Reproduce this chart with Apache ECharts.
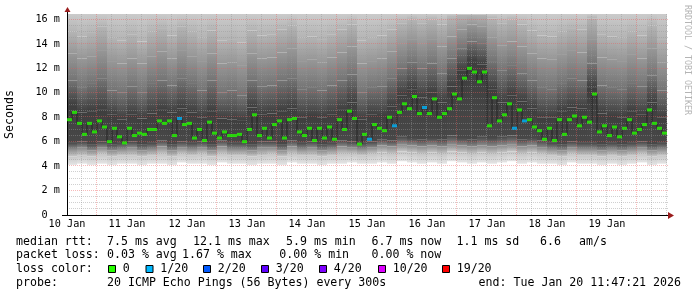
<!DOCTYPE html>
<html><head><meta charset="utf-8">
<script src="https://cdn.jsdelivr.net/npm/echarts@6/dist/echarts.min.js"></script>
<style>html,body{margin:0;padding:0;background:#fff}#c{width:697px;height:297px}</style>
</head><body><div id="c"></div>
<script>
// ---------------- data ----------------
const dayLabels = ['10 Jan','11 Jan','12 Jan','13 Jan','14 Jan','15 Jan','16 Jan','17 Jan','18 Jan','19 Jan'];
const yTickLabels = ['0\u00a0\u00a0','2 m','4 m','6 m','8 m','10 m','12 m','14 m','16 m'];

// median rtt (ms), 120 bins of 2 hours
const medianRtt = [
 7.8, 8.4, 7.5, 6.6, 7.5, 6.8, 7.7, 7.2, 6.0, 7.1, 6.4, 5.9,
 7.1, 6.5, 6.7, 6.6, 7.0, 7.0, 7.7, 7.5,
 7.7, 6.5, 7.9, 7.4, 7.5, 6.3, 7.0, 6.1, 7.6, 6.7, 6.3, 6.8, 6.5, 6.5, 6.6, 6.0, 7.0, 8.2, 6.5, 7.1,
 6.3, 7.4, 7.7, 6.3, 7.8, 7.9, 6.8, 6.5, 7.1, 6.1, 7.1, 6.3, 7.2, 6.2, 7.8, 7.0, 8.5, 7.9, 5.8, 6.6,
 6.2, 7.4, 7.1, 6.9, 8.0, 7.3, 8.4, 9.1, 8.7, 9.7, 8.3, 8.8, 8.3, 9.5, 8.0, 8.3, 8.7, 9.9, 9.5, 11.2,
 12.0, 11.7, 10.9, 11.7, 7.3, 9.6, 7.7, 8.2, 9.1, 7.1, 8.6, 7.7, 7.8, 7.2, 6.9, 6.2, 7.1, 6.1, 7.8, 6.6,
 7.8, 8.1, 7.3, 8.0, 7.6, 9.9, 6.8, 7.3, 6.5, 7.2, 6.4, 7.1, 7.8, 6.7, 7.0, 7.4, 8.6, 7.5, 7.1, 6.7
];
// lost pings (out of 20) per bin
const lossCount = [
 0,0,0,0,0,0,0,0,0,0,0,0, 0,0,0,0,0,0,0,0,
 0,0,1,0,0,0,0,0,0,0,0,0,0,0,0,0,0,0,0,0,
 0,0,0,0,0,0,0,0,0,0,0,0,0,0,0,0,0,0,0,0,
 1,0,0,0,0,1,0,0,0,0,0,1,0,0,0,0,0,0,0,0,
 0,0,0,0,0,0,0,0,0,1,0,1,0,0,0,0,0,0,0,0,
 0,0,0,0,0,0,0,0,0,0,0,0,0,0,0,0,0,0,0,0
];
// smoke boundaries (ms), 60 bins of 4 hours
const smokeMin = [4.1,4.2,4.1,4.2,4.1,4.2, 4.2,4.1,4.2,4.2,4.1,4.3, 4.2,4.2,4.1,4.3,4.2,4.2, 4.1,4.2,4.2,4.1,4.3,4.2, 4.2,4.1,4.2,4.2,4.3,4.2,
 4.2,4.3,4.2,4.4,4.3,4.2, 4.3,4.2,4.4,4.3,4.2,4.3, 4.2,4.3,4.4,4.2,4.3,4.2, 4.2,4.1,4.3,4.2,4.2,4.1, 4.2,4.1,4.2,4.3,4.1,4.2];
const smokeLow1 = [4.8,4.9,4.8,5.0,4.8,4.9, 4.9,4.8,4.9,5.0,4.8,5.0, 4.9,5.0,4.8,5.0,4.9,4.9, 4.8,4.9,5.0,4.8,5.0,4.9, 4.9,4.8,4.9,5.0,5.0,4.9,
 5.0,5.1,5.0,5.2,5.1,5.0, 5.1,5.0,5.2,5.1,5.0,5.1, 5.0,5.1,5.2,5.0,5.1,5.0, 4.9,4.8,5.0,4.9,4.9,4.8, 4.9,4.8,4.9,5.0,4.8,4.9];
const smokeLow2 = [5.4,5.5,5.3,5.5,5.3,5.4, 5.5,5.3,5.4,5.6,5.3,5.5, 5.4,5.5,5.3,5.6,5.4,5.4, 5.3,5.5,5.5,5.3,5.6,5.4, 5.5,5.3,5.4,5.6,5.5,5.4,
 5.5,5.7,5.6,5.8,5.7,5.6, 5.7,5.6,5.8,5.7,5.6,5.7, 5.6,5.7,5.8,5.6,5.7,5.5, 5.4,5.3,5.5,5.4,5.4,5.3, 5.4,5.3,5.4,5.5,5.3,5.4];
const smokeCoreLow = [5.9,6.0,5.8,6.0,5.8,5.9, 6.0,5.8,5.9,6.1,5.8,6.0, 5.9,6.0,5.8,6.1,5.9,5.9, 5.8,6.0,6.0,5.8,6.1,5.9, 6.0,5.8,5.9,6.1,6.0,5.9,
 6.0,6.2,6.1,6.4,6.3,6.2, 6.3,6.2,6.5,6.3,6.2,6.4, 6.3,6.4,6.5,6.2,6.3,6.1, 5.9,5.8,6.0,5.9,5.9,5.8, 5.9,5.8,5.9,6.0,5.8,5.9];
const smokeCoreHigh = [9.0,8.4,8.5,8.6,8.2,7.8, 8.2,7.9,8.3,8.6,8.4,8.7, 8.4,8.0,8.5,7.9,7.8,7.7, 8.8,8.2,8.3,8.5,8.7,8.0, 8.1,8.0,8.2,8.6,9.2,7.8,
 8.2,8.1,8.9,9.8,10.3,9.6, 10.0,9.2,10.5,11.8,12.6,12.3, 10.3,9.2,9.8,9.3,8.7,8.0, 8.0,8.5,8.8,8.7,10.4,8.3, 8.1,8.0,8.5,8.2,9.2,8.0];
const smokeHigh1 = [11.0,10.4,10.8,11.2,10.2,10.0, 10.5,10.0,10.8,11.0,10.6,11.2, 10.8,10.2,11.0,10.0,10.2,9.8, 11.0,10.5,10.6,11.0,11.2,10.3, 10.4,10.2,10.6,11.0,11.5,10.0,
 10.4,10.5,11.2,12.0,12.5,12.0, 12.4,11.6,12.8,13.6,14.2,14.0, 12.6,11.8,12.2,11.6,11.0,10.4, 10.3,10.8,11.2,11.0,12.4,10.6, 10.4,10.3,10.8,10.5,11.4,10.2];
const smokeHigh2 = [13.2,12.8,13.0,13.5,12.6,12.4, 12.8,12.4,13.0,13.4,12.8,13.5, 13.0,12.6,13.2,12.4,12.5,12.2, 13.2,12.8,12.9,13.3,13.6,12.6, 12.7,12.5,12.9,13.3,13.8,12.4,
 12.6,12.8,13.4,14.0,14.4,14.0, 14.4,13.8,14.6,15.2,15.6,15.4, 14.5,13.9,14.2,13.8,13.2,12.8, 12.7,13.1,13.5,13.3,14.4,12.9, 12.7,12.6,13.1,12.8,13.6,12.5];
const smokeHigh3 = [15.0,14.6,14.9,15.4,14.5,14.3, 14.8,14.2,15.0,15.3,14.7,15.4, 15.0,14.5,15.1,14.3,14.4,14.1, 15.1,14.7,14.8,15.2,15.5,14.5, 14.6,14.4,14.8,15.2,15.6,14.3,
 14.5,14.7,15.2,15.7,16.0,15.7, 16.0,15.6,16.2,16.4,16.4,16.4, 16.1,15.7,16.0,15.6,15.1,14.7, 14.6,15.0,15.3,15.2,16.1,14.8, 14.6,14.5,15.0,14.7,15.5,14.4];

const rttStats = ['7.5 ms avg','12.1 ms max','5.9 ms min','6.7 ms now','1.1 ms sd','6.6','am/s'];
const lossStats = ['0.03 % avg','1.67 % max','0.00 % min','0.00 % now'];
const lossLevels = ['0','1/20','2/20','3/20','4/20','10/20','19/20'];
const lossLevelCounts = [0,1,2,3,4,10,19];
const probeText = '20 ICMP Echo Pings (56 Bytes) every 300s';
const endText = 'end: Tue Jan 20 11:47:21 2026';

// ---------------- styles / layout ----------------
const YMAX = 16.45;
const MONO = '"DejaVu Sans Mono", monospace';
const lossColorMap = {0:'#26ff00',1:'#00b8ff',2:'#0059ff',3:'#5e00ff',4:'#7e00ff',10:'#dd00ff',19:'#ff0000'};
const boundaryShades = ['#e4e4e4','#c6c6c6','#8a8a8a','#484848','#3e3e3e','#747474','#979797','#b4b4b4','#cbcbcb'];
const GRAY = 'rgba(150,150,150,0.45)';
const RED = 'rgba(235,90,90,0.42)';

const bounds = [smokeMin, smokeLow1, smokeLow2, smokeCoreLow, smokeCoreHigh, smokeHigh1, smokeHigh2, smokeHigh3];
const smokeCats = smokeMin.map((_, i) => i);
const medCats = medianRtt.map((_, i) => i);

// grid line positions (hours on x, ms on y)
const hGrid = [], vGrid = [];
for (let v = 0.5; v <= 16; v += 0.5) hGrid.push([0, v, (v % 2 === 0) ? 1 : 0]);
for (let h = 6; h <= 240; h += 6) vGrid.push([h, 0, (h % 24 === 12) ? 1 : 0]);

function crisp(p) { const d = Math.round(p * 2); return (d + 1) % 2 === 0 ? d / 2 : (d - 1) / 2; }

const series = [];
series.push({type:'bar', stack:'smoke', xAxisIndex:1, yAxisIndex:0, data: smokeMin,
  itemStyle:{color:'transparent'}, barCategoryGap:'0%', silent:true, z:2});
for (let k = 0; k < bounds.length; k++) {
  const lower = bounds[k];
  const upper = k + 1 < bounds.length ? bounds[k+1] : null;
  const d = lower.map((v, j) => +(((upper ? upper[j] : YMAX) - v).toFixed(3)));
  series.push({type:'bar', stack:'smoke', xAxisIndex:1, yAxisIndex:0, data:d,
    itemStyle:{color: new echarts.graphic.LinearGradient(0, 1, 0, 0, [
      {offset:0, color:boundaryShades[k]}, {offset:1, color:boundaryShades[k+1]}])},
    barCategoryGap:'0%', silent:true, z:2});
}
// grid lines drawn above the smoke
series.push({type:'custom', xAxisIndex:0, yAxisIndex:0, data:hGrid, silent:true, z:3, clip:false,
  encode:{x:0, y:1},
  renderItem:(params, api) => {
    const cs = params.coordSys;
    const y = crisp(api.coord([0, api.value(1)])[1]);
    return {type:'line', shape:{x1:cs.x, y1:y, x2:cs.x + cs.width + 2, y2:y},
      style:{stroke: api.value(2) ? RED : GRAY, lineWidth:1, lineDash:[1,1], fill:null}};
  }});
series.push({type:'custom', xAxisIndex:0, yAxisIndex:0, data:vGrid, silent:true, z:3, clip:false,
  encode:{x:0, y:1},
  renderItem:(params, api) => {
    const cs = params.coordSys;
    const x = crisp(api.coord([api.value(0), 0])[0]);
    return {type:'line', shape:{x1:x, y1:cs.y, x2:x, y2:cs.y + cs.height},
      style:{stroke: api.value(2) ? RED : GRAY, lineWidth:1, lineDash:[1,1], fill:null}};
  }});
series.push({type:'line', xAxisIndex:2, yAxisIndex:0, data: medianRtt, step:'middle',
  symbol:'none', lineStyle:{color:'#1c1c1c', width:1, opacity:0.8}, silent:true, z:6});
series.push({type:'scatter', xAxisIndex:2, yAxisIndex:0, symbol:'rect', symbolSize:[5,3],
  data: medianRtt.map((v, i) => ({value:v, itemStyle:{color: lossColorMap[lossCount[i]]}})),
  silent:true, z:7});

// legend graphics
const g = [];
const txt = (x, y, s) => ({type:'text', x:x, y:y, silent:true,
  style:{text:s, fill:'#000', font:'11.6px ' + MONO, verticalAlign:'middle', align:'left'}});
const lineY = [241.5, 255.3, 269.2, 283];
g.push(txt(16, lineY[0], 'median rtt:'));
const rttX = [107, 193, 286, 371.5, 456.5, 540, 579];
rttStats.forEach((s, i) => g.push(txt(rttX[i], lineY[0], s)));
g.push(txt(16, lineY[1], 'packet loss:'));
const lossX = [107, 182, 279.3, 371.5];
lossStats.forEach((s, i) => g.push(txt(lossX[i], lineY[1], s)));
g.push(txt(16, lineY[2], 'loss color:'));
const boxX = [108.5, 146, 203.5, 261.5, 319.5, 378.5, 442.5];
lossLevels.forEach((s, i) => {
  g.push({type:'rect', shape:{x:boxX[i], y:265.5, width:7, height:7}, silent:true,
    style:{fill: lossColorMap[lossLevelCounts[i]], stroke:'#000', lineWidth:1}});
  g.push(txt(boxX[i] + 14.2, lineY[2], s));
});
g.push(txt(16, lineY[3], 'probe:'));
g.push(txt(107, lineY[3], probeText));
g.push({type:'text', x:681, y:lineY[3], silent:true,
  style:{text:endText, fill:'#000', font:'11.6px ' + MONO, verticalAlign:'middle', align:'right'}});
g.push({type:'text', x:687, y:5, rotation:-Math.PI/2, silent:true,
  style:{text:'RRDTOOL / TOBI OETIKER', fill:'#b4b4b4', font:'8.3px ' + MONO, verticalAlign:'middle', align:'left'}});
// axis arrows
g.push({type:'line', shape:{x1:67.5, y1:14, x2:67.5, y2:9}, style:{stroke:'#000', lineWidth:1}, silent:true});
g.push({type:'polygon', shape:{points:[[64.5,12],[70.5,12],[67.5,7]]}, style:{fill:'#9a1c1c'}, silent:true});
g.push({type:'line', shape:{x1:62, y1:215.5, x2:669, y2:215.5}, style:{stroke:'#000', lineWidth:1}, silent:true});
g.push({type:'polygon', shape:{points:[[668,212],[668,219],[674,215.5]]}, style:{fill:'#9a1c1c'}, silent:true});

const option = {
  animation:false,
  backgroundColor:'#fff',
  grid:{left:67, right:30, top:14, bottom:82, containLabel:false, outerBoundsMode:'none'},
  xAxis:[
    {type:'value', min:0, max:240, interval:24, z:3,
     axisLine:{show:true, lineStyle:{color:'#000', width:1}}, axisTick:{show:false},
     axisLabel:{formatter:v => (dayLabels[Math.round(v/24)] || ''), fontFamily:MONO, fontSize:10.2, color:'#000', margin:4, showMaxLabel:false},
     splitLine:{show:false}},
    {type:'category', data:smokeCats, show:false, boundaryGap:true},
    {type:'category', data:medCats, show:false, boundaryGap:true}
  ],
  yAxis:[
    {type:'value', min:0, max:YMAX, interval:2, z:3,
     name:'Seconds', nameLocation:'middle', nameGap:51, nameRotate:90,
     nameTextStyle:{fontFamily:MONO, fontSize:11.6, color:'#000'},
     axisLine:{show:true, lineStyle:{color:'#000', width:1}}, axisTick:{show:false},
     axisLabel:{formatter:v => (Math.abs(v/2 - Math.round(v/2)) < 1e-6 ? (yTickLabels[Math.round(v/2)] || '') : ''),
       fontFamily:MONO, fontSize:10.2, color:'#000', margin:7, showMaxLabel:false},
     splitLine:{show:false}}
  ],
  series: series,
  graphic: g
};
const chart = echarts.init(document.getElementById('c'), null, {renderer:'canvas'});
chart.setOption(option);
</script></body></html>
